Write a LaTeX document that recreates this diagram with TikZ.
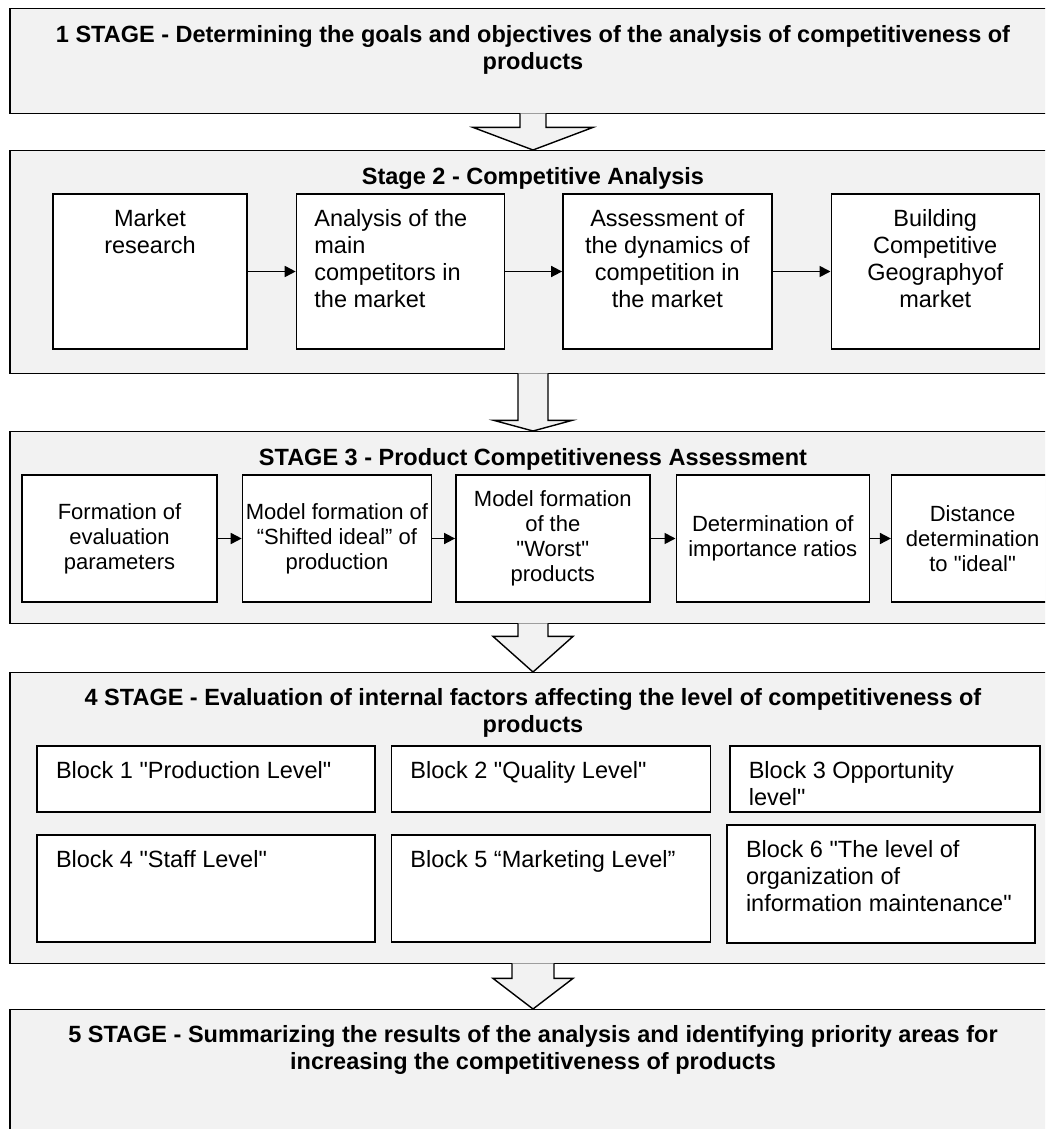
\documentclass[tikz,border=0pt]{standalone}
\usepackage{fontspec}
\setmainfont{Liberation Sans}
\usetikzlibrary{positioning, arrows.meta, calc}

\definecolor{panelgray}{HTML}{F2F2F2}
\newcommand{\bodyfont}{\fontsize{23.5}{27}\selectfont}
\newcommand{\flowfont}{\fontsize{22}{25}\selectfont}
\newcommand{\dq}{\textquotedbl}

\begin{document}
\begin{tikzpicture}[x=1pt, y=-1pt, line width=1.4pt, >={Triangle[length=11pt,width=11pt]}]
        \tikzstyle{stage}=[draw, fill=panelgray, minimum width=1046pt, anchor=north, inner sep=0pt]
        \tikzstyle{stagetitle}=[font=\bodyfont\bfseries, align=center, inner sep=0pt]
        \tikzstyle{cell}=[draw, fill=white, inner sep=0pt]
        \tikzstyle{celltext}=[font=\bodyfont, inner sep=0pt]
        \tikzstyle{flow}=[cell, minimum height=127pt, align=center, font=\flowfont]
        \tikzstyle{chevron}=[draw, fill=panelgray]
        \tikzstyle{link}=[->, line width=1.7pt]

        \path[use as bounding box, clip] (0,0) rectangle (1045,1129);
        \fill[white] (0,0) rectangle (1045,1129);

        % stage frames
        \node[stage, minimum height=105pt] (s1) at (533,8)    {};
        \node[stage, minimum height=223pt] (s2) at (533,150)  {};
        \node[stage, minimum height=192pt] (s3) at (533,431)  {};
        \node[stage, minimum height=291pt] (s4) at (533,672)  {};
        \node[stage, minimum height=150pt] (s5) at (533,1009) {};

        \node[stagetitle, below=17pt of s1.north] (t1) {1 STAGE - Determining the goals and objectives of the analysis of competitiveness of\\products};
        \node[stagetitle, below=17pt of s2.north] (t2) {Stage 2 - Competitive Analysis};
        \node[stagetitle, below=17pt of s3.north] (t3) {STAGE 3 - Product Competitiveness Assessment};
        \node[stagetitle, below=16pt of s4.north] (t4) {4 STAGE - Evaluation of internal factors affecting the level of competitiveness of\\products};
        \node[stagetitle, below=16pt of s5.north] (t5) {5 STAGE - Summarizing the results of the analysis and identifying priority areas for\\increasing the competitiveness of products};

        % big arrows between stages
        \draw[chevron] ($(s1.south)+(-13,-1)$) -- ++(0,14) -- ++(-47,0) -- (s2.north) -- ($(s1.south)+(60,13)$) -- ++(-47,0) -- ++(0,-14);
        \draw[chevron] ($(s2.south)+(-15,-1)$) -- ++(0,47) -- ++(-24,0) -- (s3.north) -- ($(s2.south)+(39,46)$) -- ++(-24,0) -- ++(0,-47);
        \draw[chevron] ($(s3.south)+(-15,-1)$) -- ++(0,13) -- ++(-25,0) -- (s4.north) -- ($(s3.south)+(40,12)$) -- ++(-25,0) -- ++(0,-13);
        \draw[chevron] ($(s4.south)+(-21,-1)$) -- ++(0,15) -- ++(-19,0) -- (s5.north) -- ($(s4.south)+(40,14)$) -- ++(-19,0) -- ++(0,-15);

        % stage 2
        \node[cell, minimum width=194pt, minimum height=155pt] (m1) at (150,271.5) {};
        \node[cell, minimum width=208pt, minimum height=155pt, right=48pt of m1] (m2) {};
        \node[cell, minimum width=209pt, minimum height=155pt, right=57pt of m2] (m3) {};
        \node[cell, minimum width=208pt, minimum height=155pt, right=58pt of m3] (m4) {};
        \node[celltext, align=center, below=15pt of m1.north] (m1t) {Market\\research};
        \node[celltext, align=left, below right=15pt and 18pt of m2.north west] (m2t) {Analysis of the\\main\\competitors in\\the market};
        \node[celltext, align=center, below=15pt of m3.north] (m3t) {Assessment of\\the dynamics of\\competition in\\the market};
        \node[celltext, align=center, below=15pt of m4.north] (m4t) {Building\\Competitive\\Geographyof\\market};
        \draw[link] (m1) -- (m2);
        \draw[link] (m2) -- (m3);
        \draw[link] (m3) -- (m4);

        % stage 3
        \node[flow, minimum width=195pt] (n1) at (119.5,538.5) {Formation of\\evaluation\\parameters};
        \node[flow, minimum width=189pt, right=24pt of n1] (n2) {Model formation of\\“Shifted ideal” of\\production};
        \node[flow, minimum width=194pt, right=23pt of n2] (n3) {Model formation\\of the\\\dq Worst\dq\\products};
        \node[flow, minimum width=193pt, right=25pt of n3] (n4) {Determination of\\importance ratios};
        \node[flow, minimum width=162pt, right=21pt of n4] (n5) {Distance\\determination\\to \dq ideal\dq};
        \draw[link] (n1) -- (n2);
        \draw[link] (n2) -- (n3);
        \draw[link] (n3) -- (n4);
        \draw[link] (n4) -- (n5);

        % stage 4
        \node[cell, minimum width=338pt, minimum height=66pt] (k1) at (206,779) {};
        \node[cell, minimum width=319pt, minimum height=66pt, right=15pt of k1] (k2) {};
        \node[cell, minimum width=310pt, minimum height=66pt, right=18pt of k2] (k3) {};
        \node[cell, minimum width=338pt, minimum height=107pt] (k4) at (206,888.5) {};
        \node[cell, minimum width=319pt, minimum height=107pt, right=15pt of k4] (k5) {};
        \node[cell, minimum width=308pt, minimum height=118pt] (k6) at (881,884) {};
        \node[celltext, align=left, below right=15pt and 19pt of k1.north west] (k1t) {Block 1 \dq Production Level\dq};
        \node[celltext, align=left, below right=15pt and 19pt of k2.north west] (k2t) {Block 2 \dq Quality Level\dq};
        \node[celltext, align=left, below right=15pt and 19pt of k3.north west] (k3t) {Block 3 Opportunity\\level\dq};
        \node[celltext, align=left, below right=15pt and 19pt of k4.north west] (k4t) {Block 4 \dq Staff Level\dq};
        \node[celltext, align=left, below right=15pt and 19pt of k5.north west] (k5t) {Block 5 “Marketing Level”};
        \node[celltext, align=left, below right=15pt and 19pt of k6.north west] (k6t) {Block 6 \dq The level of\\organization of\\information maintenance\dq};
\end{tikzpicture}
\end{document}
